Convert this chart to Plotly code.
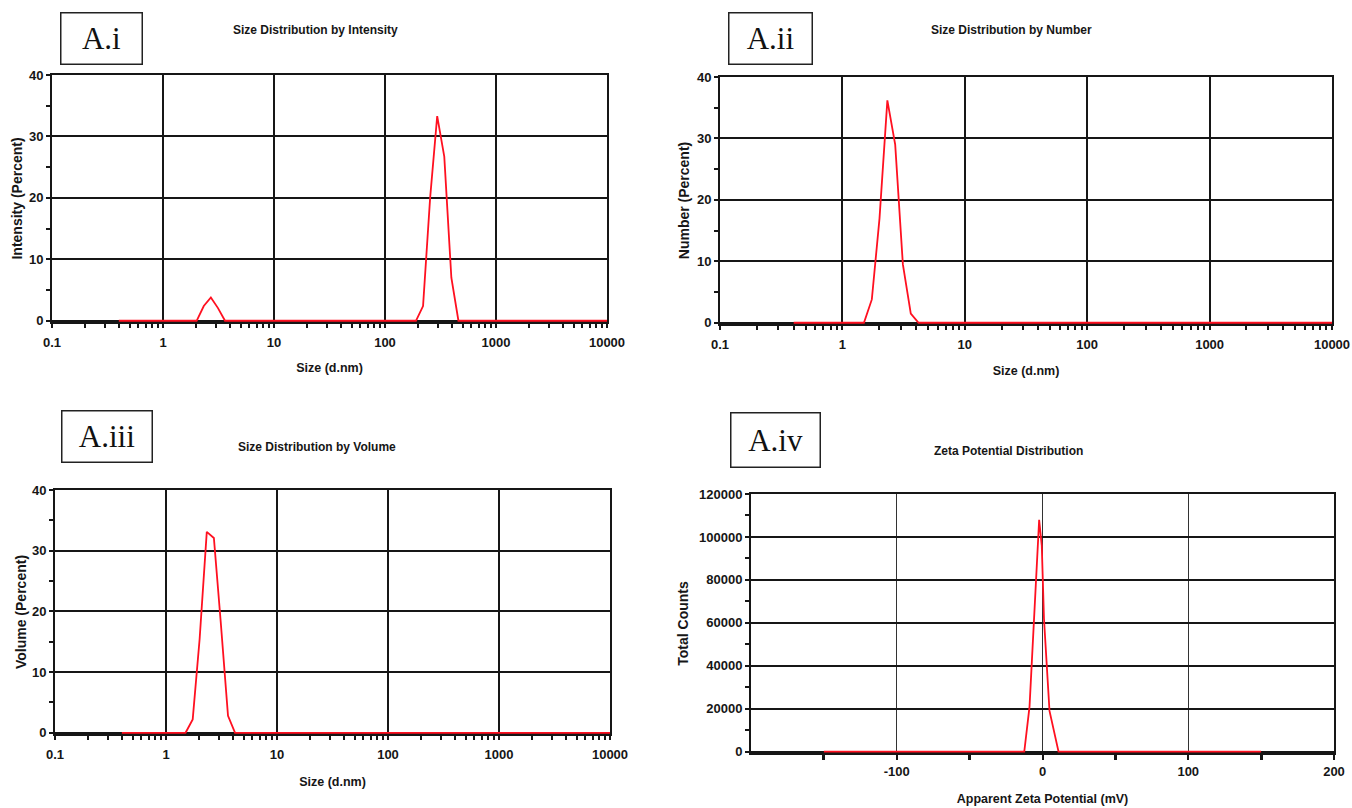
import plotly.graph_objects as go

W, H = 1352, 808

# ---------------- data ----------------
intensity_size = [0.4, 2.01, 2.33, 2.70, 3.12, 3.62, 190.1, 220.2, 255.0, 295.3, 342.0, 396.1, 458.7, 10000]
intensity_pct = [0, 0, 2.4, 3.8, 2.1, 0, 0, 2.4, 20.0, 33.3, 26.7, 7.0, 0, 0]

number_size = [0.4, 1.50, 1.74, 2.01, 2.33, 2.70, 3.12, 3.62, 4.19, 10000]
number_pct = [0, 0, 3.8, 17.0, 36.2, 29.0, 9.5, 1.5, 0, 0]

volume_size = [0.4, 1.50, 1.74, 2.01, 2.33, 2.70, 3.12, 3.62, 4.19, 10000]
volume_pct = [0, 0, 2.2, 15.5, 33.1, 32.1, 18.0, 2.8, 0, 0]

zeta_mv = [-150, -12.5, -8.9, -2.3, -0.5, 1.0, 4.8, 11.0, 150]
zeta_counts = [0, 0, 21000, 108000, 96000, 62000, 19000, 0, 0]

size_ticks = [0.1, 1, 10, 100, 1000, 10000]
size_tick_text = ["0.1", "1", "10", "100", "1000", "10000"]
size_minor = [m * 10 ** e for e in range(-1, 4) for m in range(2, 10)]
pct_ticks = [0, 10, 20, 30, 40]
pct_minor = [5, 15, 25, 35]
zeta_ticks = [-100, 0, 100, 200]
zeta_minor = [-150, -50, 50, 150]
count_ticks = [0, 20000, 40000, 60000, 80000, 100000, 120000]
count_minor = [10000, 30000, 50000, 70000, 90000, 110000]

panel_labels = ["A.i", "A.ii", "A.iii", "A.iv"]
panel_titles = ["Size Distribution by Intensity", "Size Distribution by Number",
                "Size Distribution by Volume", "Zeta Potential Distribution"]

# ---------------- layout helpers ----------------
def fx(x):
    return x / W

def fy(y):
    return 1 - y / H

INK = "#161616"
SANS = "Liberation Sans, Arial, sans-serif"
tick_font = dict(family=SANS, size=13, color=INK, weight="bold")
xtitle_font = dict(family=SANS, size=12.5, color=INK, weight="bold")
ytitle_font = dict(family=SANS, size=14, color=INK, weight="bold")

def size_xaxis(x0, x1, anchor, standoff):
    return dict(type="log", range=[-1, 4], domain=[fx(x0), fx(x1)], anchor=anchor,
                tickmode="array", tickvals=size_ticks, ticktext=size_tick_text,
                showgrid=True, gridcolor=INK, gridwidth=2,
                showline=True, linecolor=INK, linewidth=2, mirror=True,
                ticks="outside", ticklen=4, tickwidth=1.5, tickcolor=INK,
                ticklabelstandoff=3,
                minor=dict(tickmode="array", tickvals=size_minor, ticks="outside",
                           ticklen=4, tickwidth=1.5, tickcolor=INK, showgrid=False),
                zeroline=False, tickfont=tick_font, layer="below traces", automargin=False,
                title=dict(text="Size (d.nm)", font=xtitle_font, standoff=standoff))

def pct_yaxis(y0, y1, anchor, label, standoff):
    return dict(range=[-0.2, 40], domain=[fy(y1), fy(y0)], anchor=anchor,
                tickmode="array", tickvals=pct_ticks, ticktext=[str(v) for v in pct_ticks],
                showgrid=True, gridcolor=INK, gridwidth=2,
                showline=True, linecolor=INK, linewidth=2, mirror=True,
                ticks="outside", ticklen=4, tickwidth=1.5, tickcolor=INK,
                minor=dict(tickmode="array", tickvals=pct_minor, ticks="outside",
                           ticklen=4, tickwidth=1.5, tickcolor=INK, showgrid=False),
                zeroline=False, tickfont=tick_font, layer="below traces", automargin=False,
                title=dict(text=label, font=ytitle_font, standoff=standoff))

fig = go.Figure()
line = dict(color="#ff1020", width=1.8)
fig.add_trace(go.Scatter(x=intensity_size, y=intensity_pct, mode="lines", line=line,
                         xaxis="x", yaxis="y", showlegend=False))
fig.add_trace(go.Scatter(x=number_size, y=number_pct, mode="lines", line=line,
                         xaxis="x2", yaxis="y2", showlegend=False))
fig.add_trace(go.Scatter(x=volume_size, y=volume_pct, mode="lines", line=line,
                         xaxis="x3", yaxis="y3", showlegend=False))
fig.add_trace(go.Scatter(x=zeta_mv, y=zeta_counts, mode="lines", line=line,
                         xaxis="x4", yaxis="y4", showlegend=False))

layout = dict(
    width=W, height=H, margin=dict(l=0, r=0, t=0, b=0, autoexpand=False),
    paper_bgcolor="white", plot_bgcolor="white", showlegend=False,
    xaxis=size_xaxis(52, 607, "y", 15),
    yaxis=pct_yaxis(75, 322, "x", "Intensity (Percent)", 3),
    xaxis2=size_xaxis(720, 1332, "y2", 16),
    yaxis2=pct_yaxis(77, 324, "x2", "Number (Percent)", 4),
    xaxis3=size_xaxis(55, 610, "y3", 17),
    yaxis3=pct_yaxis(490, 734, "x3", "Volume (Percent)", 2),
    xaxis4=dict(range=[-200, 200], domain=[fx(751), fx(1334)], anchor="y4",
                tickmode="array", tickvals=zeta_ticks, ticktext=[str(v) for v in zeta_ticks],
                showgrid=True, gridcolor="#333333", gridwidth=1,
                showline=True, linecolor=INK, linewidth=2, mirror=True,
                ticks="outside", ticklen=5, tickwidth=2, tickcolor=INK,
                minor=dict(tickmode="array", tickvals=zeta_minor, ticks="outside",
                           ticklen=5, tickwidth=2.5, tickcolor=INK, showgrid=False),
                zeroline=False, tickfont=tick_font, layer="below traces", automargin=False,
                title=dict(text="Apparent Zeta Potential (mV)", font=xtitle_font, standoff=17)),
    yaxis4=dict(range=[-600, 120000], domain=[fy(753), fy(494)], anchor="x4",
                tickmode="array", tickvals=count_ticks, ticktext=[str(v) for v in count_ticks],
                showgrid=True, gridcolor=INK, gridwidth=2,
                showline=True, linecolor=INK, linewidth=2, mirror=True,
                ticks="outside", ticklen=4, tickwidth=1.5, tickcolor=INK,
                minor=dict(tickmode="array", tickvals=count_minor, ticks="outside",
                           ticklen=4, tickwidth=1.5, tickcolor=INK, showgrid=False),
                zeroline=False, tickfont=tick_font, layer="below traces", automargin=False,
                title=dict(text="Total Counts", font=ytitle_font, standoff=7)),
)
fig.update_layout(**layout)

# boxed panel labels
label_boxes = [(101, 38, 80, 50), (770, 38, 82, 50), (107, 436, 89, 50), (775, 440, 88, 53)]
for text, (cx, cy, bw, bh) in zip(panel_labels, label_boxes):
    fig.add_annotation(x=fx(cx), y=fy(cy), xref="paper", yref="paper", text=text,
                       showarrow=False, xanchor="center", yanchor="middle",
                       width=bw, height=bh, align="center", valign="middle",
                       bordercolor="#222222", borderwidth=1.5, borderpad=0, bgcolor="white",
                       font=dict(family="Liberation Serif, Times New Roman, serif", size=31, color="#111111"))

# panel titles
title_pos = [(315, 30), (1011, 30), (317, 447), (1008, 451)]
for text, (cx, cy) in zip(panel_titles, title_pos):
    fig.add_annotation(x=fx(cx), y=fy(cy), xref="paper", yref="paper", text=text,
                       showarrow=False, xanchor="center", yanchor="middle",
                       font=dict(family=SANS, size=12, color=INK, weight="bold"))

fig.write_html("out.html", config={"displayModeBar": False},
               post_script="document.body.style.margin='0';document.body.style.overflow='hidden';")
